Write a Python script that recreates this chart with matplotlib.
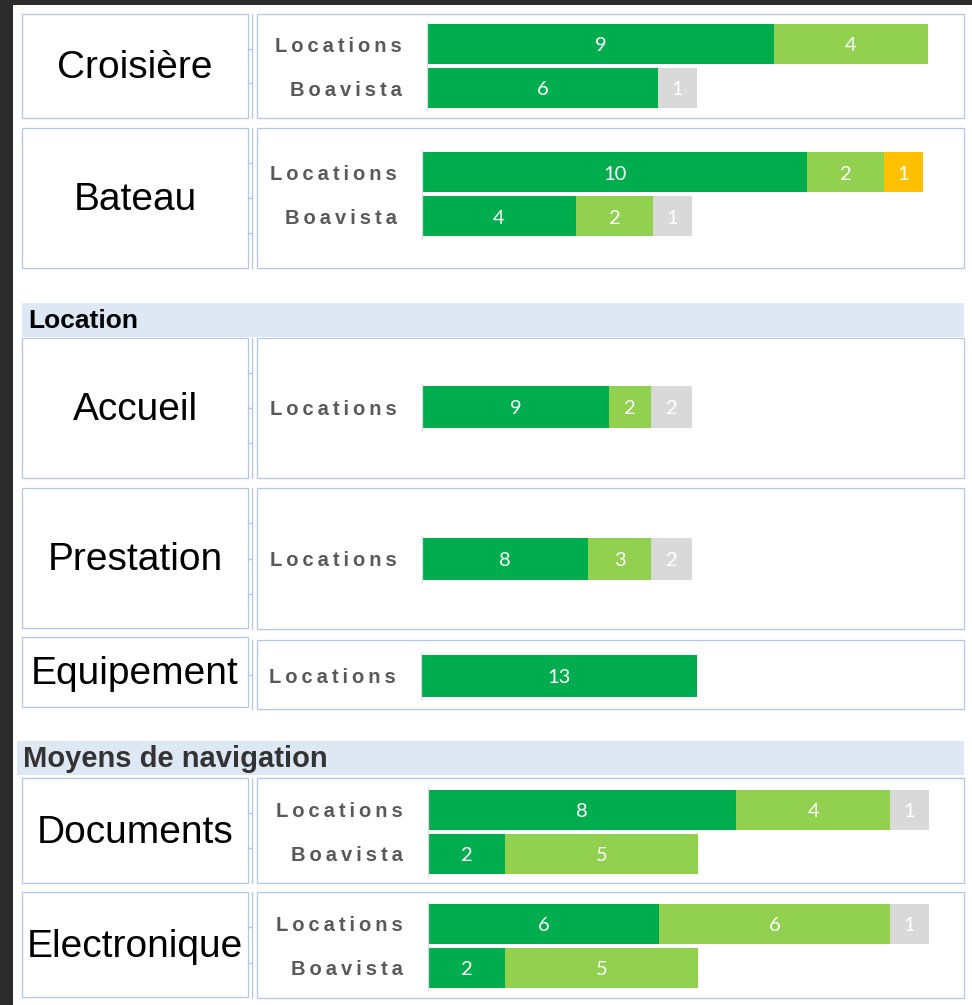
import matplotlib
matplotlib.use("Agg")
import matplotlib.pyplot as plt
from matplotlib.patches import Rectangle

# categories and series values (one list per row, one value per sub-bar)
rows = ["Croisière", "Bateau", "Accueil", "Prestation", "Equipement", "Documents", "Electronique"]
groups = [["Locations", "Boavista"], ["Locations", "Boavista"], ["Locations"], ["Locations"],
          ["Locations"], ["Locations", "Boavista"], ["Locations", "Boavista"]]
tres_satisfait = [[9, 6], [10, 4], [9], [8], [13], [8, 2], [6, 2]]
satisfait = [[4, 0], [2, 2], [2], [3], [0], [4, 5], [6, 5]]
peu_satisfait = [[0, 0], [1, 0], [0], [0], [0], [0, 0], [0, 0]]
sans_avis = [[0, 1], [0, 1], [2], [2], [0], [1, 0], [1, 0]]
sections = ["Location", "Moyens de navigation"]

series = [tres_satisfait, satisfait, peu_satisfait, sans_avis]
colors = ["#00AD4E", "#92D050", "#FFC000", "#D9D9D9"]

W, H = 972, 1005
BORDER = "#B4C6E7"

# layout in pixels
label_box = [(22, 14, 248, 118), (22, 128, 248, 268), (22, 338, 248, 478), (22, 488, 248, 628),
             (22, 637, 248, 707), (22, 778, 248, 883), (22, 892, 248, 997)]
chart_box = [(257, 14, 964, 118), (257, 128, 964, 268), (257, 338, 964, 478), (257, 488, 964, 629),
             (257, 640, 964, 709), (257, 778, 964, 883), (257, 892, 964, 998)]
bar_start = [427, 422, 422, 422, 421, 428, 428]
bar_center = [66, 194.5, 407, 559, 675.5, 831.5, 945.5]
xmax = [13.5, 13.5, 25, 25, 24.5, 13.5, 13.5]
header_box = [(22, 303, 964, 337), (17, 741, 964, 775)]

fig = plt.figure(figsize=(W / 100, H / 100), dpi=100, facecolor="#2B2B2B")
bg = fig.add_axes([0, 0, 1, 1])
bg.set_xlim(0, W)
bg.set_ylim(H, 0)
bg.axis("off")
bg.add_patch(Rectangle((13, 5), W - 13, H - 5, facecolor="white", edgecolor="none"))


def box(ax, b, **kw):
    x0, y0, x1, y1 = b
    ax.add_patch(Rectangle((x0, y0), x1 - x0, y1 - y0, **kw))


# section headers
for i, name in enumerate(sections):
    box(bg, header_box[i], facecolor="#DDE8F4", edgecolor="none")
    x0, y0, x1, y1 = header_box[i]
    bg.text(x0 + 6, (y0 + y1) / 2 + 1, name, fontsize=19 if i == 0 else 21, fontweight="bold",
            family="Liberation Sans", color="black" if i == 0 else "#333333",
            ha="left", va="center")


def spaced(s):
    return "\u2009".join(s)


for r, name in enumerate(rows):
    box(bg, label_box[r], facecolor="white", edgecolor=BORDER, lw=0.9)
    box(bg, chart_box[r], facecolor="white", edgecolor=BORDER, lw=0.9)
    lx0, ly0, lx1, ly1 = label_box[r]
    bg.text((lx0 + lx1) / 2, (ly0 + ly1) / 2 + 2, name, fontsize=28, family="Liberation Sans",
            ha="center", va="center", color="black")

    # category axis line with its tick marks
    cx0, cy0, cx1, cy1 = chart_box[r]
    bg.plot([252, 252], [cy0, cy1], color=BORDER, lw=0.9)
    ndiv = max(2, round((cy1 - cy0) / 35))
    for k in range(1, ndiv):
        yy = cy0 + (cy1 - cy0) * k / ndiv
        bg.plot([248, 252], [yy, yy], color=BORDER, lw=0.9)

    # bars
    n = len(groups[r])
    slot = 44 if n == 2 else 46
    bh = 40 / 44 if n == 2 else 42 / 46
    ax_h = slot * n
    ax_w = 520
    ax = fig.add_axes([bar_start[r] / W, 1 - (bar_center[r] + ax_h / 2) / H, ax_w / W, ax_h / H])
    ax.set_xlim(0, xmax[r])
    ax.set_ylim(n - 0.5, -0.5)
    ypos = list(range(n))
    left = [0] * n
    for s, vals in enumerate(series):
        v = vals[r]
        ax.barh(ypos, v, left=left, height=bh, color=colors[s], edgecolor="none")
        for j in range(n):
            if v[j] > 0:
                ax.text(left[j] + v[j] / 2, ypos[j] + 0.04, str(v[j]), ha="center", va="center",
                        color="white", fontsize=14.5, family="Lato")
        left = [left[j] + v[j] for j in range(n)]
    ax.set_yticks(ypos)
    ax.set_yticklabels([spaced(g) for g in groups[r]], fontsize=14.5, fontweight="bold",
                       family="Liberation Sans", color="#595959")
    ax.tick_params(axis="y", length=0, pad=18)
    ax.set_xticks([])
    for sp in ["top", "right", "bottom"]:
        ax.spines[sp].set_visible(False)
    ax.spines["left"].set_color("#D9D9D9")
    ax.spines["left"].set_linewidth(0.9)
    ax.patch.set_alpha(0)

fig.savefig("out.png", dpi=100, facecolor=fig.get_facecolor())
